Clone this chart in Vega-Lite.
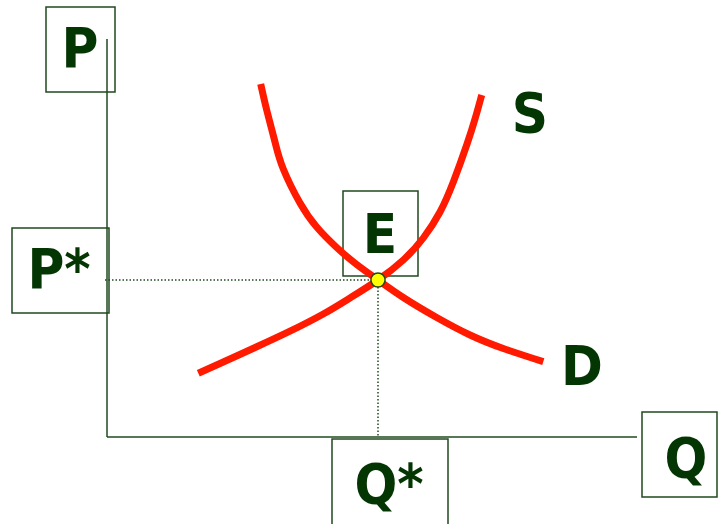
{
  "$schema": "https://vega.github.io/schema/vega-lite/v6.json",
  "width": 718,
  "height": 524,
  "padding": 0,
  "autosize": {"type": "fit", "contains": "padding"},
  "background": "white",
  "config": {"view": {"stroke": null}},
  "datasets": {
    "boxes": [
      {"label": "P", "x1": -61, "x2": 8, "y1": 430, "y2": 345},
      {"label": "P*", "x1": -95, "x2": 2, "y1": 209, "y2": 124},
      {"label": "E", "x1": 236, "x2": 311, "y1": 246, "y2": 161},
      {"label": "Q*", "x1": 225, "x2": 341, "y1": -2, "y2": -95},
      {"label": "Q", "x1": 535, "x2": 610, "y1": 25, "y2": -60}
    ],
    "axes": [
      {"x1": 0, "x2": 0, "y1": 0, "y2": 398},
      {"x1": 0, "x2": 530, "y1": 0, "y2": 0}
    ],
    "guides": [
      {"x1": -2, "x2": 271, "y1": 157, "y2": 157},
      {"x1": 271, "x2": 271, "y1": 157, "y2": 0}
    ],
    "curves": [
      {"curve": "S", "i": 0, "q": 91.3, "p": 63.7},
      {"curve": "S", "i": 1, "q": 116.3, "p": 75.0},
      {"curve": "S", "i": 2, "q": 149.7, "p": 90.2},
      {"curve": "S", "i": 3, "q": 183, "p": 105.8},
      {"curve": "S", "i": 4, "q": 216.3, "p": 123},
      {"curve": "S", "i": 5, "q": 243, "p": 139},
      {"curve": "S", "i": 6, "q": 271, "p": 157},
      {"curve": "S", "i": 7, "q": 296.3, "p": 177},
      {"curve": "S", "i": 8, "q": 316.3, "p": 199},
      {"curve": "S", "i": 9, "q": 333, "p": 225},
      {"curve": "S", "i": 10, "q": 346.3, "p": 255},
      {"curve": "S", "i": 11, "q": 359.7, "p": 292},
      {"curve": "S", "i": 12, "q": 368, "p": 318},
      {"curve": "S", "i": 13, "q": 374.7, "p": 342},
      {"curve": "D", "i": 0, "q": 153.7, "p": 353},
      {"curve": "D", "i": 1, "q": 159.7, "p": 327},
      {"curve": "D", "i": 2, "q": 168, "p": 295},
      {"curve": "D", "i": 3, "q": 176.3, "p": 268},
      {"curve": "D", "i": 4, "q": 193, "p": 234},
      {"curve": "D", "i": 5, "q": 209.7, "p": 210},
      {"curve": "D", "i": 6, "q": 229.7, "p": 189.5},
      {"curve": "D", "i": 7, "q": 249.7, "p": 172.5},
      {"curve": "D", "i": 8, "q": 271, "p": 157},
      {"curve": "D", "i": 9, "q": 296.3, "p": 139.5},
      {"curve": "D", "i": 10, "q": 329.7, "p": 119.5},
      {"curve": "D", "i": 11, "q": 363, "p": 102},
      {"curve": "D", "i": 12, "q": 396.3, "p": 88.5},
      {"curve": "D", "i": 13, "q": 436.3, "p": 75.3}
    ],
    "eq": [{"q": 271, "p": 157}],
    "labels": [
      {"text": "P", "x": -27, "y": 370},
      {"text": "P*", "x": -48, "y": 149},
      {"text": "E", "x": 273, "y": 184},
      {"text": "S", "x": 423, "y": 305},
      {"text": "D", "x": 475, "y": 52},
      {"text": "Q*", "x": 282, "y": -66},
      {"text": "Q", "x": 579, "y": -40}
    ]
  },
  "layer": [
    {
      "data": {"name": "boxes"},
      "mark": {"type": "rect", "fill": null, "stroke": "#1f4a1f", "strokeWidth": 1.5, "clip": true},
      "encoding": {
        "x": {"field": "x1", "type": "quantitative", "scale": {"domain": [-107, 611], "nice": false, "zero": false}, "axis": null},
        "x2": {"field": "x2"},
        "y": {"field": "y1", "type": "quantitative", "scale": {"domain": [-87, 437], "nice": false, "zero": false}, "axis": null},
        "y2": {"field": "y2"}
      }
    },
    {
      "data": {"name": "axes"},
      "mark": {"type": "rule", "stroke": "#1f4a1f", "strokeWidth": 1.5},
      "encoding": {
        "x": {"field": "x1", "type": "quantitative"},
        "x2": {"field": "x2"},
        "y": {"field": "y1", "type": "quantitative"},
        "y2": {"field": "y2"}
      }
    },
    {
      "data": {"name": "guides"},
      "mark": {"type": "rule", "stroke": "#1f4a1f", "strokeWidth": 1.5, "strokeDash": [1.5, 2]},
      "encoding": {
        "x": {"field": "x1", "type": "quantitative"},
        "x2": {"field": "x2"},
        "y": {"field": "y1", "type": "quantitative"},
        "y2": {"field": "y2"}
      }
    },
    {
      "data": {"name": "curves"},
      "mark": {"type": "line", "strokeWidth": 7, "interpolate": "natural", "strokeCap": "butt"},
      "encoding": {
        "x": {"field": "q", "type": "quantitative"},
        "y": {"field": "p", "type": "quantitative"},
        "detail": {"field": "curve"},
        "order": {"field": "i"},
        "color": {"value": "#ff1a00"}
      }
    },
    {
      "data": {"name": "eq"},
      "mark": {"type": "point", "shape": "circle", "filled": true, "fill": "#ffff00", "stroke": "#1f4a1f", "strokeWidth": 1.5, "size": 200, "opacity": 1},
      "encoding": {
        "x": {"field": "q", "type": "quantitative"},
        "y": {"field": "p", "type": "quantitative"}
      }
    },
    {
      "data": {"name": "labels"},
      "mark": {"type": "text", "font": "DejaVu Sans Condensed", "fontWeight": "bold", "fontSize": 56, "color": "#033603", "align": "center", "baseline": "alphabetic"},
      "encoding": {
        "x": {"field": "x", "type": "quantitative"},
        "y": {"field": "y", "type": "quantitative"},
        "text": {"field": "text"}
      }
    }
  ]
}
